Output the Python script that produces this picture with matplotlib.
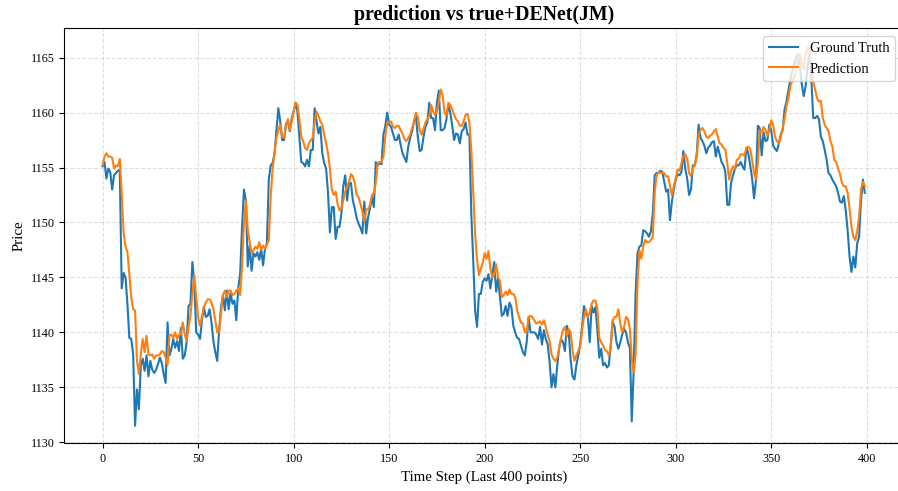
import numpy as np
import matplotlib.pyplot as plt

# last 400 points
ground_truth = [
    1155.1, 1155.5, 1154.0, 1154.9, 1154.6, 1153.0, 1154.3, 1154.5, 1154.7, 1154.8,
    1144.0, 1145.4, 1145.0, 1142.6, 1139.5, 1139.4, 1138.0, 1131.5, 1134.8, 1133.0,
    1137.0, 1137.6, 1136.5, 1137.9, 1136.0, 1137.4, 1136.6, 1136.3, 1136.6, 1137.1,
    1137.7, 1137.2, 1136.2, 1135.4, 1140.9, 1137.9, 1138.5, 1139.4, 1138.6, 1139.2,
    1138.3, 1140.4, 1137.6, 1137.9, 1139.1, 1142.4, 1142.6, 1146.4, 1144.6, 1140.0,
    1139.8, 1139.4, 1141.1, 1142.3, 1141.4, 1141.5, 1142.1, 1140.9, 1139.2, 1138.2,
    1137.4, 1140.2, 1142.3, 1143.4, 1142.0, 1143.8, 1142.1, 1143.6, 1142.6, 1142.9,
    1141.1, 1144.0, 1145.3, 1149.6, 1153.0, 1152.0, 1146.0, 1147.9, 1145.6, 1147.2,
    1146.9, 1147.3, 1146.6, 1147.6, 1146.1, 1147.6, 1148.1, 1153.9, 1155.2, 1155.4,
    1156.3, 1158.4, 1160.4, 1159.2, 1157.5, 1157.5, 1159.0, 1159.2, 1158.3, 1159.5,
    1160.1, 1160.9, 1160.1, 1157.8, 1155.5, 1155.4, 1155.1, 1155.7, 1155.1, 1156.6,
    1156.6, 1160.4, 1159.2, 1158.1, 1158.7, 1156.3, 1155.4, 1154.9, 1152.7, 1149.1,
    1151.4, 1151.4, 1148.5, 1149.6, 1149.6, 1150.8, 1153.3, 1154.3, 1152.0, 1153.6,
    1153.6, 1152.0, 1151.3, 1150.4, 1149.9, 1149.5, 1149.0, 1151.9, 1149.0, 1150.5,
    1151.3, 1152.3, 1151.4, 1155.5, 1155.2, 1155.4, 1155.3, 1158.0, 1158.8, 1160.0,
    1158.9, 1158.7, 1158.1, 1157.5, 1157.5, 1158.0, 1157.1, 1156.3, 1155.9, 1155.5,
    1156.9, 1157.7, 1158.3, 1159.2, 1159.7, 1157.8, 1156.5, 1156.6, 1157.8, 1158.7,
    1159.1, 1160.9, 1159.5, 1159.5, 1158.4, 1160.9, 1162.0, 1158.4, 1158.4, 1158.6,
    1159.4, 1160.7, 1160.0, 1158.8, 1157.5, 1158.1, 1158.0, 1157.2, 1158.3, 1158.5,
    1159.1, 1158.0, 1158.0, 1150.8, 1146.6, 1142.0, 1140.5, 1143.5, 1143.5, 1144.6,
    1144.9, 1144.7, 1145.3, 1144.0, 1145.2, 1146.4, 1143.7, 1144.9, 1143.2, 1141.5,
    1141.7, 1142.4, 1141.5, 1142.7, 1142.3, 1140.6, 1140.0, 1139.5, 1139.4, 1138.8,
    1138.2, 1137.9, 1139.1, 1141.4, 1140.0, 1140.0, 1140.0, 1139.8, 1139.4, 1140.5,
    1138.9, 1140.2, 1139.4, 1138.9, 1137.3, 1135.0, 1136.2, 1135.0, 1137.0, 1138.6,
    1139.4, 1139.1, 1138.3, 1140.6, 1140.0, 1137.5, 1136.0, 1135.7, 1137.0, 1137.9,
    1138.9, 1140.5, 1142.4, 1141.7, 1141.4, 1139.1, 1142.4, 1141.8, 1142.3, 1140.2,
    1137.7, 1138.5, 1137.0, 1137.2, 1136.8, 1137.0, 1138.9, 1141.0, 1140.5, 1139.1,
    1138.5, 1139.1, 1139.8, 1140.3, 1140.0, 1139.1, 1138.6, 1131.9, 1136.5, 1143.5,
    1147.2, 1147.8, 1147.9, 1149.3, 1149.2, 1149.0, 1148.7, 1149.2, 1150.8, 1154.3,
    1154.5, 1154.5, 1154.7, 1154.6, 1153.7, 1152.8, 1153.0, 1150.2, 1151.9, 1153.0,
    1153.9, 1154.4, 1154.3, 1154.6, 1156.5, 1154.9, 1154.0, 1152.5, 1153.0, 1155.2,
    1155.2, 1156.2, 1158.9, 1157.7, 1157.4, 1157.0, 1156.3, 1156.8, 1157.0, 1157.3,
    1157.4, 1156.0, 1156.9, 1156.2, 1155.5, 1155.2, 1154.6, 1151.6, 1151.6, 1153.6,
    1154.3, 1154.9, 1155.2, 1155.2, 1155.5, 1155.1, 1154.8, 1156.8, 1156.3, 1155.2,
    1154.0, 1152.2, 1153.8, 1158.8, 1158.6, 1156.1, 1158.2, 1157.4, 1157.5, 1158.9,
    1158.4, 1157.0, 1156.7, 1156.5, 1157.2, 1158.0, 1158.4, 1160.3, 1161.0, 1162.0,
    1163.0, 1163.8, 1164.4, 1165.0, 1165.3, 1164.2, 1162.6, 1161.5, 1162.4, 1164.2,
    1165.3, 1163.0, 1159.5, 1159.5, 1159.7, 1159.4, 1157.8, 1157.4, 1156.6, 1155.7,
    1154.5, 1154.3, 1153.9, 1153.6, 1153.3, 1152.7, 1151.9, 1151.8, 1152.4, 1151.1,
    1149.3, 1146.9, 1145.5, 1146.9, 1145.9, 1148.1, 1148.7, 1152.0, 1153.9, 1152.7,
]

prediction = [
    1155.2, 1156.0, 1156.3, 1156.0, 1156.0, 1155.9, 1154.9, 1155.2, 1155.1, 1155.8,
    1152.7, 1149.1, 1147.8, 1147.3, 1145.3, 1143.2, 1142.1, 1142.0, 1137.4, 1136.2,
    1138.0, 1139.4, 1138.2, 1139.7, 1138.0, 1137.9, 1138.0, 1137.6, 1137.9, 1137.9,
    1138.0, 1138.3, 1138.2, 1137.7, 1137.0, 1139.7, 1139.8, 1139.5, 1140.0, 1139.4,
    1139.8, 1139.8, 1140.9, 1139.8, 1139.2, 1140.5, 1141.5, 1143.5, 1145.2, 1143.2,
    1141.4, 1140.6, 1141.4, 1142.3, 1142.7, 1143.0, 1143.0, 1142.7, 1142.1, 1141.1,
    1140.0, 1140.0, 1141.8, 1143.4, 1143.8, 1143.2, 1143.8, 1143.8, 1143.4, 1143.5,
    1143.8, 1144.0, 1143.4, 1146.0, 1149.9, 1152.0, 1149.3, 1148.2, 1147.2, 1147.5,
    1147.8, 1147.6, 1148.2, 1147.5, 1147.9, 1147.6, 1148.0, 1148.4, 1152.3, 1154.9,
    1156.3, 1157.7, 1158.4, 1158.9, 1157.8, 1157.7, 1158.8, 1159.4, 1158.4, 1159.2,
    1160.1, 1160.9, 1160.7, 1159.4, 1157.8, 1157.4, 1156.8, 1156.6, 1157.2, 1157.5,
    1157.7, 1159.1, 1160.1, 1159.7, 1159.2, 1158.9, 1158.0, 1157.2, 1156.3, 1154.9,
    1153.0, 1152.5, 1152.8, 1151.7, 1151.1, 1151.3, 1152.0, 1152.8, 1153.3, 1153.7,
    1154.4, 1154.2, 1153.6, 1152.5, 1152.3, 1151.7, 1151.0, 1150.1, 1151.2, 1151.2,
    1151.6, 1152.5, 1152.7, 1153.6, 1155.4, 1155.5, 1155.5, 1156.0, 1157.8, 1159.1,
    1159.1, 1159.2, 1158.7, 1158.6, 1158.8, 1158.8, 1158.4, 1158.1, 1157.6, 1157.4,
    1157.7, 1158.0, 1158.6, 1159.1, 1160.0, 1159.6, 1158.4, 1158.0, 1158.5, 1159.1,
    1159.4, 1159.7, 1160.7, 1160.1, 1159.8, 1160.1, 1161.0, 1162.1, 1161.6, 1160.0,
    1159.7, 1160.9, 1160.7, 1160.3, 1159.8, 1159.4, 1159.2, 1158.8, 1158.8, 1159.2,
    1159.8, 1159.9, 1159.1, 1156.6, 1152.7, 1149.0, 1146.6, 1145.2, 1145.8, 1146.3,
    1147.2, 1146.7, 1147.4, 1145.8, 1145.0, 1145.2, 1146.2, 1145.0, 1144.7, 1143.2,
    1143.4, 1143.7, 1143.4, 1143.9, 1143.5, 1143.5, 1143.2, 1142.0, 1141.4, 1140.9,
    1140.8, 1140.0, 1140.0, 1141.4, 1141.5, 1141.4, 1141.1, 1140.8, 1140.9, 1141.0,
    1140.7, 1141.1, 1140.5, 1139.8, 1139.2, 1138.0, 1137.6, 1137.4, 1137.7, 1138.6,
    1139.5, 1140.2, 1140.5, 1139.6, 1140.3, 1140.0, 1138.4, 1137.4, 1137.9, 1138.3,
    1138.7, 1140.2, 1141.4, 1142.1, 1141.4, 1141.8, 1142.6, 1142.9, 1142.9, 1142.1,
    1139.5, 1139.1, 1138.8, 1138.4, 1138.3, 1137.9, 1138.6, 1141.1, 1141.4, 1141.4,
    1142.1, 1140.8, 1140.0, 1140.5, 1141.4, 1141.2, 1140.3, 1137.7, 1136.3, 1138.0,
    1144.4, 1147.5, 1146.7, 1147.8, 1148.4, 1148.2, 1148.2, 1148.4, 1148.7, 1152.7,
    1154.3, 1154.6, 1154.5, 1154.5, 1154.5, 1154.2, 1154.2, 1153.3, 1152.5, 1153.3,
    1154.0, 1154.8, 1154.7, 1155.4, 1156.0, 1156.2, 1155.8, 1154.5, 1154.2, 1155.0,
    1155.2, 1156.0, 1158.0, 1158.4, 1158.6, 1158.3, 1157.8, 1157.7, 1157.9, 1158.0,
    1158.3, 1158.5, 1157.8, 1157.2, 1157.1, 1156.8, 1156.6, 1155.4, 1153.9, 1154.7,
    1155.1, 1154.9, 1155.7, 1155.8, 1156.2, 1156.2, 1156.1, 1156.8, 1156.9, 1156.7,
    1155.7, 1154.5, 1153.9, 1155.4, 1158.4, 1158.2, 1158.7, 1158.4, 1157.9, 1158.4,
    1159.3, 1158.9, 1157.8, 1157.4, 1157.2, 1157.8, 1158.6, 1159.4, 1160.6, 1161.3,
    1162.4, 1162.9, 1163.2, 1163.8, 1165.0, 1165.3, 1164.5, 1163.9, 1165.2, 1165.9,
    1165.8, 1164.2, 1162.8, 1162.1, 1161.3, 1161.0, 1161.1, 1159.5, 1158.9, 1158.6,
    1158.3, 1157.4, 1156.9, 1155.7, 1155.5, 1154.9, 1154.4, 1153.6, 1153.3, 1153.3,
    1152.7, 1151.3, 1149.6, 1148.7, 1148.4, 1149.2, 1150.5, 1153.0, 1153.7, 1153.3,
]

plt.rcParams['font.family'] = ['Liberation Serif', 'DejaVu Serif']

fig = plt.figure(figsize=(8.98, 4.91), dpi=100)
# axes run a little past the right edge, like the cropped original
ax = fig.add_axes([0.0718, 0.0971, 0.9337, 0.8459])

steps = np.arange(len(ground_truth))
ax.plot(steps, ground_truth, label="Ground Truth", linewidth=1.5)
ax.plot(steps, prediction, label="Prediction", linewidth=1.5)
ax.set_ylim(1129.9, 1167.7)

ax.set_title("prediction vs true+DENet(JM)", fontsize=14.3, fontweight="bold")
ax.set_xlabel("Time Step (Last 400 points)", fontsize=10.7)
ax.set_ylabel("Price", fontsize=10.7)
ax.tick_params(labelsize=8.7)
ax.grid(True, linestyle="--", alpha=0.4)
ax.legend(loc="upper right", fontsize=10.5, borderaxespad=0,
          bbox_to_anchor=(895 / 898, 1 - 36 / 491), bbox_transform=fig.transFigure)

fig.savefig("out.png", dpi=100)
